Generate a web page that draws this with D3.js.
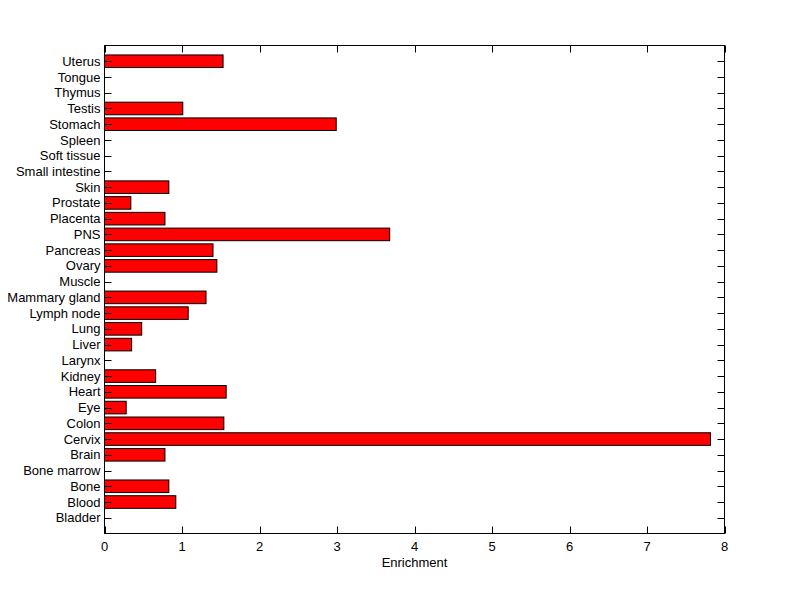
<!DOCTYPE html>
<html><head><meta charset="utf-8">
<script src="https://cdn.jsdelivr.net/npm/d3@7"></script>
<style>body{margin:0;background:#fff}svg{display:block}text{font-family:"Liberation Sans",Arial,sans-serif;font-size:13px;fill:#000}</style>
</head><body>
<svg id="c" width="800" height="599"></svg>
<script>
const categories = ["Bladder","Blood","Bone","Bone marrow","Brain","Cervix","Colon","Eye","Heart","Kidney","Larynx","Liver","Lung","Lymph node","Mammary gland","Muscle","Ovary","Pancreas","PNS","Placenta","Prostate","Skin","Small intestine","Soft tissue","Spleen","Stomach","Testis","Thymus","Tongue","Uterus"];
const values = [0,0.92,0.83,0,0.78,7.82,1.54,0.28,1.57,0.66,0,0.35,0.48,1.08,1.31,0,1.45,1.40,3.68,0.78,0.34,0.83,0,0,0,2.99,1.01,0,0,1.53];
const xTicks = [0,1,2,3,4,5,6,7,8];
const xLabel = "Enrichment";

const svg = d3.select("#c");
const L=104.5, R=724.5, T=45.5, B=533.5;
const x = d3.scaleLinear().domain([0,8]).range([L,R]);
const y = d3.scaleLinear().domain([0,31]).range([B,T]);
const bw = 0.8;

const data = categories.map((c,i)=>({c, v:values[i], pos:i+1}));

svg.append("g").selectAll("rect").data(data.filter(d=>d.v>0)).join("rect")
  .attr("x", x(0))
  .attr("y", d=>y(d.pos+bw/2))
  .attr("width", d=>x(d.v)-x(0))
  .attr("height", d=>y(d.pos-bw/2)-y(d.pos+bw/2))
  .attr("fill","#ff0000").attr("stroke","#000").attr("stroke-width",1);

// frame
svg.append("rect").attr("x",L).attr("y",T).attr("width",R-L).attr("height",B-T)
  .attr("fill","none").attr("stroke","#000").attr("stroke-width",1);

const tl = 7;
const g = svg.append("g").attr("stroke","#000").attr("stroke-width",1);
xTicks.forEach(t=>{
  const xx = Math.round(x(t))+0.5;
  g.append("line").attr("x1",xx).attr("x2",xx).attr("y1",B).attr("y2",B-tl);
  g.append("line").attr("x1",xx).attr("x2",xx).attr("y1",T).attr("y2",T+tl);
});
data.forEach(d=>{
  const yy = Math.round(y(d.pos))+0.5;
  g.append("line").attr("x1",L).attr("x2",L+tl).attr("y1",yy).attr("y2",yy);
  g.append("line").attr("x1",R).attr("x2",R-tl).attr("y1",yy).attr("y2",yy);
});

svg.append("g").selectAll("text").data(xTicks).join("text")
  .attr("x",d=>x(d)).attr("y",B+17).attr("text-anchor","middle").text(d=>d);
svg.append("g").selectAll("text").data(data).join("text")
  .attr("x",L-4).attr("y",d=>y(d.pos)).attr("dy","0.35em").attr("text-anchor","end").text(d=>d.c);
svg.append("text").attr("x",(L+R)/2).attr("y",B+33).attr("text-anchor","middle").text(xLabel);
</script>
</body></html>
